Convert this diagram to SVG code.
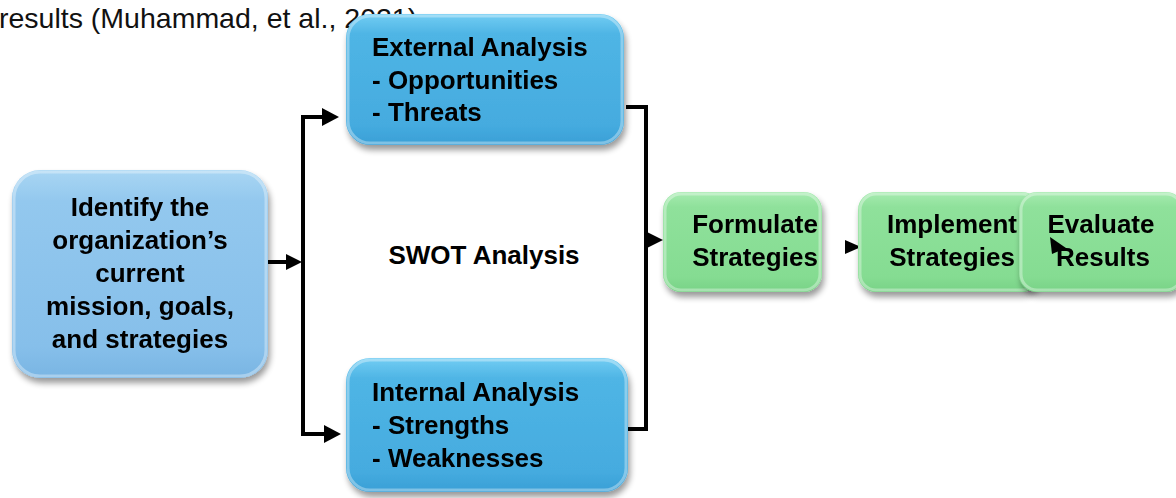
<svg xmlns="http://www.w3.org/2000/svg" width="1176" height="498" viewBox="0 0 1176 498">
<style>
.t{font-family:"Liberation Sans",Arial,sans-serif;font-weight:bold;font-size:26px;fill:#000}
.tc{text-anchor:middle}
.cap{font-family:"Liberation Sans",Arial,sans-serif;font-size:28.5px;fill:#111}
.ln{fill:none;stroke:#000;stroke-width:4}
.ah{fill:#000}
.hl{fill:none;stroke:#ffffff;stroke-opacity:0.35;stroke-width:3}
</style>
<defs>
<linearGradient id="gLight" x1="0" y1="0" x2="0" y2="1">
<stop offset="0" stop-color="#a9d6f3"/>
<stop offset="0.15" stop-color="#93c8ee"/>
<stop offset="0.85" stop-color="#86bfea"/>
<stop offset="1" stop-color="#79b5e3"/>
</linearGradient>
<linearGradient id="gBlue" x1="0" y1="0" x2="0" y2="1">
<stop offset="0" stop-color="#72cdf3"/>
<stop offset="0.15" stop-color="#4fb5e5"/>
<stop offset="0.85" stop-color="#45abdf"/>
<stop offset="1" stop-color="#3a9fd6"/>
</linearGradient>
<linearGradient id="gGreen" x1="0" y1="0" x2="0" y2="1">
<stop offset="0" stop-color="#a6ebb0"/>
<stop offset="0.15" stop-color="#8fe19b"/>
<stop offset="0.85" stop-color="#85dc92"/>
<stop offset="1" stop-color="#78d286"/>
</linearGradient>
<filter id="sh" x="-10%" y="-10%" width="125%" height="130%">
<feGaussianBlur in="SourceAlpha" stdDeviation="3"/>
<feOffset dx="2" dy="5" result="b"/>
<feComponentTransfer><feFuncA type="linear" slope="0.4"/></feComponentTransfer>
<feMerge><feMergeNode/><feMergeNode in="SourceGraphic"/></feMerge>
</filter>
</defs>
<text class="cap" x="-1" y="28">results (Muhammad, et al., 2021)</text>

<g id="connectors">
<line class="ln" x1="268" y1="262" x2="288" y2="262"/>
<polygon class="ah" points="286,254 302,262 286,270"/>
<line class="ln" x1="303" y1="115" x2="303" y2="436"/>
<line class="ln" x1="301" y1="117" x2="324" y2="117"/>
<polygon class="ah" points="322,108 339,117 322,126"/>
<line class="ln" x1="301" y1="434" x2="326" y2="434"/>
<polygon class="ah" points="324,425 341,434 324,443"/>
<polyline class="ln" points="626,107 646,107 646,429 626,429"/>
<polygon class="ah" points="647,232 663,240 647,248"/>
<polygon class="ah" points="845,240 861,247 845,254"/>
</g>

<g id="identify" filter="url(#sh)">
<rect x="12" y="170" width="256" height="208" rx="28" fill="url(#gLight)"/>
<rect x="14" y="172" width="252" height="204" rx="26" class="hl"/>
<text class="t tc" x="140" y="216">Identify the</text>
<text class="t tc" x="140" y="249">organization’s</text>
<text class="t tc" x="140" y="282">current</text>
<text class="t tc" x="140" y="315">mission, goals,</text>
<text class="t tc" x="140" y="348">and strategies</text>
</g>

<g id="swot">
<text class="t tc" x="484" y="264">SWOT Analysis</text>
</g>

<g id="external" filter="url(#sh)">
<rect x="346" y="14" width="278" height="131" rx="24" fill="url(#gBlue)"/>
<rect x="348" y="16" width="274" height="127" rx="22" class="hl"/>
<text class="t" x="372" y="56">External Analysis</text>
<text class="t" x="372" y="89">- Opportunities</text>
<text class="t" x="372" y="121">- Threats</text>
</g>

<g id="internal" filter="url(#sh)">
<rect x="346" y="358" width="282" height="134" rx="24" fill="url(#gBlue)"/>
<rect x="348" y="360" width="278" height="130" rx="22" class="hl"/>
<text class="t" x="372" y="401">Internal Analysis</text>
<text class="t" x="372" y="434">- Strengths</text>
<text class="t" x="372" y="467">- Weaknesses</text>
</g>

<g id="formulate" filter="url(#sh)">
<rect x="663" y="192" width="159" height="100" rx="18" fill="url(#gGreen)"/>
<rect x="665" y="194" width="155" height="96" rx="16" class="hl"/>
<text class="t tc" x="755" y="233">Formulate</text>
<text class="t tc" x="755" y="266">Strategies</text>
</g>

<g id="implement" filter="url(#sh)">
<rect x="858" y="192" width="182" height="100" rx="18" fill="url(#gGreen)"/>
<rect x="860" y="194" width="178" height="96" rx="16" class="hl"/>
<text class="t tc" x="952" y="233">Implement</text>
<text class="t tc" x="952" y="266">Strategies</text>
</g>

<g id="evaluate" filter="url(#sh)">
<rect x="1019" y="192" width="165" height="100" rx="18" fill="url(#gGreen)"/>
<rect x="1021" y="194" width="161" height="96" rx="16" class="hl"/>
<text class="t tc" x="1101" y="233">Evaluate</text>
<text class="t tc" x="1103" y="266">Results</text>
</g>

<g id="pointer">
<polygon class="ah" points="1050,237 1066,248 1052,254"/>
</g>
</svg>
